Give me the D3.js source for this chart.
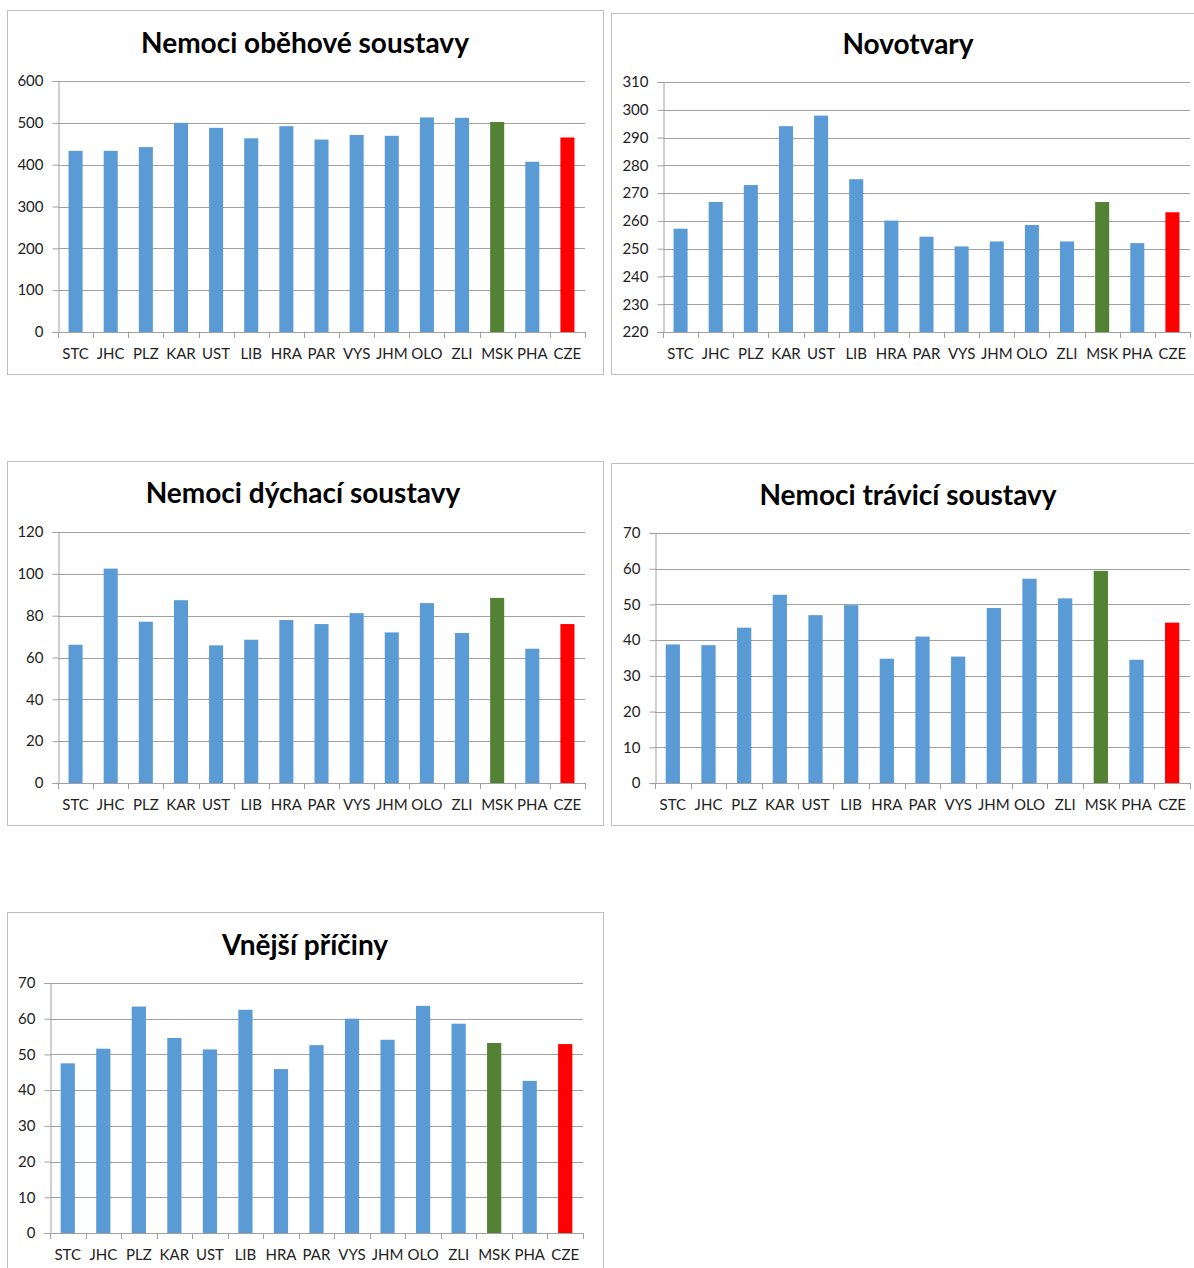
<!DOCTYPE html>
<html>
<head>
<meta charset="utf-8">
<script src="https://cdn.jsdelivr.net/npm/d3@7"></script>
<style>
  html, body { margin: 0; padding: 0; background: #fff; }
  svg { display: block; }
  text { font-family: Lato, "Open Sans", sans-serif; }
</style>
</head>
<body>
<svg id="chart" width="1194" height="1268"></svg>
<script>
// ---- data ----
const categories = ["STC","JHC","PLZ","KAR","UST","LIB","HRA","PAR","VYS","JHM","OLO","ZLI","MSK","PHA","CZE"];
const titles = ["Nemoci oběhové soustavy","Novotvary","Nemoci dýchací soustavy","Nemoci trávicí soustavy","Vnější příčiny"];
const obehove  = [433, 433, 442, 500, 488, 463, 492, 460, 471, 469, 513, 512, 502, 407, 465];
const novotvary = [257.2, 266.8, 272.9, 294.1, 297.9, 275.0, 260.1, 254.3, 250.8, 252.6, 258.5, 252.6, 266.8, 252.0, 263.1];
const dychaci  = [66.1, 102.5, 77.1, 87.4, 65.8, 68.5, 77.9, 76.0, 81.2, 72.0, 86.0, 71.7, 88.5, 64.2, 76.0];
const travici  = [38.8, 38.6, 43.5, 52.7, 47.0, 49.8, 34.8, 41.0, 35.4, 49.0, 57.2, 51.7, 59.4, 34.5, 44.9];
const vnejsi   = [47.5, 51.6, 63.4, 54.6, 51.4, 62.5, 45.9, 52.6, 60.0, 54.1, 63.6, 58.6, 53.2, 42.6, 52.9];
const ticksObehove  = [0,100,200,300,400,500,600];
const ticksNovotvary = [220,230,240,250,260,270,280,290,300,310];
const ticksDychaci  = [0,20,40,60,80,100,120];
const ticksTravici  = [0,10,20,30,40,50,60,70];
const ticksVnejsi   = [0,10,20,30,40,50,60,70];

// ---- layout (positions/styles) ----
const layouts = [
  {box:[7,10,596,364],   plot:{l:58, r:585, t:81,  b:332},  title:[305,53]},
  {box:[611,13,600,361], plot:{l:663,r:1190,t:82,  b:332},  title:[908,54]},
  {box:[7,461,596,364],  plot:{l:58, r:585, t:532, b:783},  title:[303,503]},
  {box:[611,463,600,362],plot:{l:655,r:1190,t:533, b:783},  title:[908,505]},
  {box:[7,912,596,400],  plot:{l:50, r:583, t:983, b:1233}, title:[305,955]}
];
const series = [obehove, novotvary, dychaci, travici, vnejsi];
const tickSets = [ticksObehove, ticksNovotvary, ticksDychaci, ticksTravici, ticksVnejsi];

const colorFor = c => c === "MSK" ? "#548235" : (c === "CZE" ? "#FF0000" : "#5B9BD5");
const axisColor = "#a0a0a0";

const svg = d3.select("#chart");

series.forEach((vals, i) => {
  const L = layouts[i];
  const ticks = tickSets[i];
  const g = svg.append("g");

  g.append("rect")
    .attr("x", L.box[0] + 0.5).attr("y", L.box[1] + 0.5)
    .attr("width", L.box[2]).attr("height", L.box[3])
    .attr("fill", "#fff").attr("stroke", "#bfbfbf").attr("stroke-width", 1);

  g.append("text")
    .attr("x", L.title[0]).attr("y", L.title[1])
    .attr("text-anchor", "middle")
    .attr("font-size", 28).attr("font-weight", "bold").attr("fill", "#000")
    .text(titles[i]);

  const xb = d3.scaleBand().domain(categories).range([L.plot.l, L.plot.r]);
  const y = d3.scaleLinear().domain([ticks[0], ticks[ticks.length-1]]).range([L.plot.b, L.plot.t]);

  // gridlines
  g.append("g").selectAll("line").data(ticks.slice(1)).join("line")
    .attr("x1", L.plot.l).attr("x2", L.plot.r)
    .attr("y1", d => Math.round(y(d)) + 0.5).attr("y2", d => Math.round(y(d)) + 0.5)
    .attr("stroke", axisColor).attr("stroke-width", 1);

  // bars
  g.append("g").selectAll("rect").data(categories).join("rect")
    .attr("x", c => xb(c) + xb.bandwidth()*0.3)
    .attr("width", xb.bandwidth()*0.4)
    .attr("y", (c, j) => y(vals[j]))
    .attr("height", (c, j) => y(ticks[0]) - y(vals[j]))
    .attr("fill", colorFor);

  // y axis
  const yAxis = d3.axisLeft(y).tickValues(ticks).tickSize(6).tickPadding(9).tickFormat(d3.format("d"));
  const ya = g.append("g").attr("transform", `translate(${Math.round(L.plot.l)+0.5},0)`).call(yAxis);
  ya.select(".domain").attr("stroke", axisColor);
  ya.selectAll(".tick line").attr("stroke", axisColor);
  ya.selectAll(".tick text").attr("font-size", 15).attr("fill", "#222").attr("font-family", "Lato, sans-serif");

  // x axis: line + category separators
  g.append("line")
    .attr("x1", L.plot.l).attr("x2", L.plot.r)
    .attr("y1", Math.round(L.plot.b)+0.5).attr("y2", Math.round(L.plot.b)+0.5)
    .attr("stroke", axisColor);
  const seps = categories.map(c => xb(c)).concat([L.plot.r]);
  g.append("g").selectAll("line").data(seps).join("line")
    .attr("x1", d => Math.round(d)+0.5).attr("x2", d => Math.round(d)+0.5)
    .attr("y1", L.plot.b).attr("y2", L.plot.b + 6)
    .attr("stroke", axisColor);
  g.append("g").selectAll("text").data(categories).join("text")
    .attr("x", c => xb(c) + xb.bandwidth()/2)
    .attr("y", L.plot.b + 27)
    .attr("text-anchor", "middle")
    .attr("font-size", 15).attr("fill", "#222")
    .text(c => c);
});
</script>
</body>
</html>
